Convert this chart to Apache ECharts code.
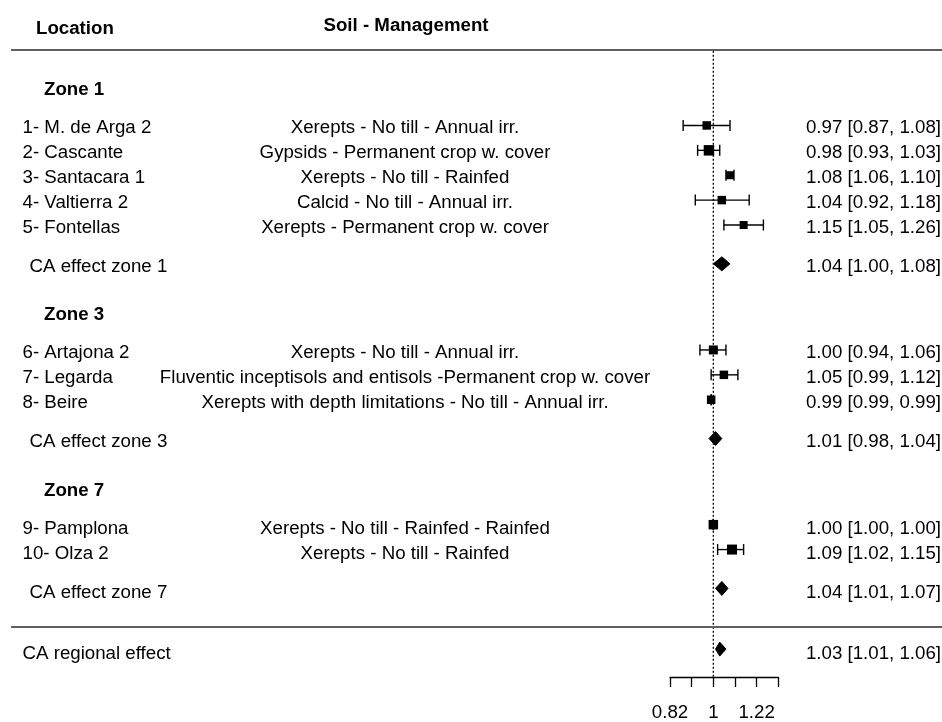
<!DOCTYPE html>
<html>
<head>
<meta charset="utf-8">
<script src="https://cdn.jsdelivr.net/npm/echarts@6/dist/echarts.min.js"></script>
<style>
html,body{margin:0;padding:0;background:#fff;}
#chart{width:942px;height:722px;}
</style>
</head>
<body>
<div id="chart"></div>
<script>
// ---------- data ----------
const locations = ['1- M. de Arga 2', '2- Cascante', '3- Santacara 1', '4- Valtierra 2', '5- Fontellas',
  '6- Artajona 2', '7- Legarda', '8- Beire', '9- Pamplona', '10- Olza 2'];
const soilManagement = ['Xerepts - No till - Annual irr.', 'Gypsids - Permanent crop w. cover',
  'Xerepts - No till - Rainfed', 'Calcid - No till - Annual irr.', 'Xerepts - Permanent crop w. cover',
  'Xerepts - No till - Annual irr.', 'Fluventic inceptisols and entisols -Permanent crop w. cover',
  'Xerepts with depth limitations - No till - Annual irr.', 'Xerepts - No till - Rainfed - Rainfed',
  'Xerepts - No till - Rainfed'];
const studyZone = [0, 0, 0, 0, 0, 1, 1, 1, 2, 2];
const estimate = [0.97, 0.98, 1.08, 1.04, 1.15, 1.00, 1.05, 0.99, 1.00, 1.09];
const lower    = [0.87, 0.93, 1.06, 0.92, 1.05, 0.94, 0.99, 0.99, 1.00, 1.02];
const upper    = [1.08, 1.03, 1.10, 1.18, 1.26, 1.06, 1.12, 0.99, 1.00, 1.15];
const zones = ['Zone 1', 'Zone 3', 'Zone 7'];
const zoneLabels = ['CA effect zone 1', 'CA effect zone 3', 'CA effect zone 7'];
const zoneEstimate = [1.04, 1.01, 1.04];
const zoneLower    = [1.00, 0.98, 1.01];
const zoneUpper    = [1.08, 1.04, 1.07];
const regionalLabel = 'CA regional effect';
const regionalEstimate = 1.03;
const regionalLower = 1.01;
const regionalUpper = 1.06;
const xTicks = [-0.2, -0.1, 0, 0.1, 0.2, 0.3];          // log scale
const tickLabels = ['0.82', '', '1', '', '1.22', ''];
const headers = ['Location', 'Soil - Management'];

// ---------- styles / layout ----------
const FS = 18.7;
const FONT = '"Liberation Sans", Arial, sans-serif';
const TEXT_DY = 1.5;
const squareSize = [8.5, 10.5, 8, 8.5, 8, 9, 8.5, 8.5, 9.5, 10];
const ROW_TOP = -3.52, ROW_BOTTOM = 23.68;

// compute row positions
const studyRow = [], zoneHeaderRow = [], zoneSumRow = [];
let r = 0;
zones.forEach((z, zi) => {
  zoneHeaderRow.push(r);
  let last = r;
  let k = 0;
  studyZone.forEach((sz, i) => {
    if (sz === zi) { studyRow[i] = r + 1.52 + k; last = studyRow[i]; k++; }
  });
  zoneSumRow.push(last + 1.56);
  r = last + 1.56 + 1.94;
});
const bottomLineRow = zoneSumRow[zoneSumRow.length - 1] + 1.44;
const regionalRow = bottomLineRow + 1.0;
const topLineRow = -1.52;
const headerRows = [-2.44, -2.56];

const fmt = (e, l, u) => e.toFixed(2) + ' [' + l.toFixed(2) + ', ' + u.toFixed(2) + ']';

// text items (grid 1, pixel x)
const texts = [];
texts.push({x: 36, row: headerRows[0], text: headers[0], align: 'left', bold: true});
texts.push({x: 406, row: headerRows[1], text: headers[1], align: 'center', bold: true});
zones.forEach((z, zi) => {
  texts.push({x: 44, row: zoneHeaderRow[zi], text: z, align: 'left', bold: true});
  texts.push({x: 29.5, row: zoneSumRow[zi], text: zoneLabels[zi], align: 'left'});
  texts.push({x: 941, row: zoneSumRow[zi], text: fmt(zoneEstimate[zi], zoneLower[zi], zoneUpper[zi]), align: 'right'});
});
locations.forEach((loc, i) => {
  texts.push({x: 22.5, row: studyRow[i], text: loc, align: 'left'});
  texts.push({x: 405, row: studyRow[i], text: soilManagement[i], align: 'center'});
  texts.push({x: 941, row: studyRow[i], text: fmt(estimate[i], lower[i], upper[i]), align: 'right'});
});
texts.push({x: 22.5, row: regionalRow, text: regionalLabel, align: 'left'});
texts.push({x: 941, row: regionalRow, text: fmt(regionalEstimate, regionalLower, regionalUpper), align: 'right'});

const hLines = [[11, 942, topLineRow], [11, 942, bottomLineRow]];

const ln = Math.log;
const studyData = estimate.map((e, i) => [ln(e), studyRow[i], ln(lower[i]), ln(upper[i])]);
const diamondData = zoneEstimate.map((e, i) => [ln(e), zoneSumRow[i], ln(zoneLower[i]), ln(zoneUpper[i])]);
diamondData.push([ln(regionalEstimate), regionalRow, ln(regionalLower), ln(regionalUpper)]);

const chart = echarts.init(document.getElementById('chart'), null, {renderer: 'canvas'});

const yAxisBase = {type: 'value', min: ROW_TOP, max: ROW_BOTTOM, inverse: true, show: false};

chart.setOption({
  animation: false,
  backgroundColor: '#fff',
  grid: [
    {left: 670, right: 163.67, top: 0, bottom: 42},
    {left: 0, right: 0, top: 0, bottom: 42}
  ],
  xAxis: [
    {
      type: 'value', gridIndex: 0, position: 'bottom', min: xTicks[0], max: xTicks[xTicks.length - 1], interval: 0.1,
      splitLine: {show: false},
      axisLine: {show: true, onZero: false, lineStyle: {color: '#000', width: 1.3}},
      axisTick: {show: true, length: 10, lineStyle: {color: '#000', width: 1.3}},
      axisLabel: {
        show: true, margin: 26, color: '#000', fontSize: FS, fontFamily: FONT,
        formatter: v => {
          const idx = xTicks.findIndex(t => Math.abs(t - v) < 1e-6);
          return idx >= 0 ? tickLabels[idx] : '';
        }
      }
    },
    {type: 'value', gridIndex: 1, min: 0, max: 942, show: false}
  ],
  yAxis: [
    Object.assign({gridIndex: 0}, yAxisBase),
    Object.assign({gridIndex: 1}, yAxisBase)
  ],
  series: [
    {
      type: 'custom', xAxisIndex: 0, yAxisIndex: 0, z: 1,
      data: [[0, topLineRow, ROW_BOTTOM]],
      renderItem: (params, api) => {
        const a = api.coord([api.value(0), api.value(1)]);
        const b = api.coord([api.value(0), api.value(2)]);
        return {type: 'line', shape: {x1: a[0], y1: a[1] + 1, x2: b[0], y2: b[1]},
          style: {stroke: '#000', lineWidth: 1.3, lineDash: [2, 2]}};
      }
    },
    {
      type: 'custom', xAxisIndex: 1, yAxisIndex: 1, z: 2,
      data: hLines,
      renderItem: (params, api) => {
        const a = api.coord([api.value(0), api.value(2)]);
        const b = api.coord([api.value(1), api.value(2)]);
        return {type: 'line', shape: {x1: a[0], y1: a[1], x2: b[0], y2: b[1]},
          style: {stroke: '#5f5f5f', lineWidth: 2}};
      }
    },
    {
      type: 'custom', xAxisIndex: 0, yAxisIndex: 0, z: 3,
      data: studyData,
      renderItem: (params, api) => {
        const c = api.coord([api.value(0), api.value(1)]);
        const l = api.coord([api.value(2), api.value(1)]);
        const u = api.coord([api.value(3), api.value(1)]);
        const s = squareSize[params.dataIndex];
        const cap = 5.5;
        const st = {stroke: '#000', lineWidth: 1.4};
        return {type: 'group', children: [
          {type: 'line', shape: {x1: l[0], y1: c[1], x2: u[0], y2: c[1]}, style: st},
          {type: 'line', shape: {x1: l[0], y1: c[1] - cap, x2: l[0], y2: c[1] + cap}, style: st},
          {type: 'line', shape: {x1: u[0], y1: c[1] - cap, x2: u[0], y2: c[1] + cap}, style: st},
          {type: 'rect', shape: {x: c[0] - s / 2, y: c[1] - s / 2, width: s, height: s}, style: {fill: '#000'}}
        ]};
      }
    },
    {
      type: 'custom', xAxisIndex: 0, yAxisIndex: 0, z: 3,
      data: diamondData,
      renderItem: (params, api) => {
        const c = api.coord([api.value(0), api.value(1)]);
        const l = api.coord([api.value(2), api.value(1)]);
        const u = api.coord([api.value(3), api.value(1)]);
        const h = 7;
        return {type: 'polygon', shape: {points: [[l[0], c[1]], [c[0], c[1] - h], [u[0], c[1]], [c[0], c[1] + h]]},
          style: {fill: '#000', stroke: '#000', lineWidth: 1}};
      }
    },
    {
      type: 'custom', xAxisIndex: 1, yAxisIndex: 1, z: 4,
      data: texts.map(t => [t.x, t.row]),
      renderItem: (params, api) => {
        const t = texts[params.dataIndex];
        const p = api.coord([api.value(0), api.value(1)]);
        return {type: 'text', x: p[0], y: p[1] + TEXT_DY, style: {
          text: t.text, fill: '#000',
          font: (t.bold ? 'bold ' : '') + FS + 'px ' + FONT,
          textAlign: t.align, align: t.align,
          textVerticalAlign: 'middle', verticalAlign: 'middle'
        }};
      }
    }
  ]
});
</script>
</body>
</html>
